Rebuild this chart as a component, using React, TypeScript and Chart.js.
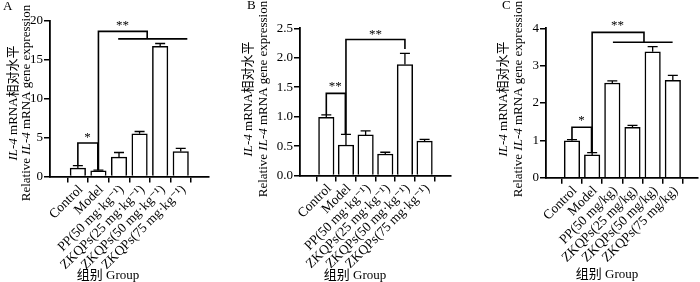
import React, { useEffect, useRef } from "react";
import { Chart, registerables } from "chart.js";

Chart.register(...registerables);

// ---------------- data ----------------
const groupsAB = [
  "Control",
  "Model",
  "PP(50 mg·kg⁻¹)",
  "ZKQPs(25 mg·kg⁻¹)",
  "ZKQPs(50 mg·kg⁻¹)",
  "ZKQPs(75 mg·kg⁻¹)",
];
const groupsC = [
  "Control",
  "Model",
  "PP(50 mg/kg)",
  "ZKQPs(25 mg/kg)",
  "ZKQPs(50 mg/kg)",
  "ZKQPs(75 mg/kg)",
];

const meanA = [1.08, 0.73, 2.48, 5.47, 16.7, 3.2];
const errA = [0.32, 0.1, 0.6, 0.3, 0.35, 0.4];
const meanB = [0.99, 0.52, 0.69, 0.366, 1.886, 0.586];
const errB = [0.04, 0.18, 0.07, 0.03, 0.19, 0.03];
const meanC = [0.99, 0.61, 2.535, 1.35, 3.37, 2.61];
const errC = [0.03, 0.06, 0.055, 0.05, 0.14, 0.13];

const ticksA = [0, 5, 10, 15, 20];
const ticksB = [0, 0.5, 1, 1.5, 2, 2.5];
const ticksC = [0, 1, 2, 3, 4];

// significance brackets in data units: [category index, value]
const bracketsA = [
  { path: [[0, 1.45], [0, 4.3], [0.97, 4.3], [0.97, 0.8]], mark: "*", at: [0.47, 5.3] },
  { path: [[1, 0.8], [1, 18.6], [3.37, 18.6], [3.37, 17.65]], mark: "**", at: [2.17, 19.7] },
  { path: [[1.96, 17.65], [5.32, 17.65]] },
];
const bracketsB = [
  { path: [[0, 1.03], [0, 1.395], [0.97, 1.395], [0.97, 0.7]], mark: "**", at: [0.45, 1.56] },
  { path: [[1, 0.7], [1, 2.31], [4, 2.31], [4, 2.15]], mark: "**", at: [2.5, 2.44] },
];
const bracketsC = [
  { path: [[0, 1.03], [0, 1.35], [0.97, 1.35], [0.97, 0.67]], mark: "*", at: [0.47, 1.59] },
  { path: [[1, 0.67], [1, 3.89], [3.57, 3.89], [3.57, 3.625]], mark: "**", at: [2.26, 4.13] },
  { path: [[2.03, 3.625], [4.99, 3.625]] },
];

// ---------------- layout ----------------
const FONT = "'Liberation Serif', 'DejaVu Serif', 'Noto Sans CJK SC', serif";
const YW = 40;
const XLABEL_SIZE = 13.5;

const panels = [
  {
    letter: "A", left: 0, width: 230, axisX: 50, right: 209, top: 20.5, bottom: 176.5,
    min: -0.71, max: 5.73, yMax: 20, labels: groupsAB, mean: meanA, err: errA, yTicks: ticksA,
    brackets: bracketsA, decimals: 0,
    letterPos: [3, 10], yTitleX: [14, 26.5], yTitleY: 103, xTitle: [108, 276],
  },
  {
    letter: "B", left: 230, width: 230, axisX: 300, right: 450.5, top: 28.3, bottom: 175.6,
    min: -0.7, max: 5.68, yMax: 2.5, labels: groupsAB, mean: meanB, err: errB, yTicks: ticksB,
    brackets: bracketsB, decimals: 1,
    letterPos: [247, 9], yTitleX: [249, 264], yTitleY: 99, xTitle: [355, 276],
  },
  {
    letter: "C", left: 460, width: 240, axisX: 546, right: 698, top: 28.3, bottom: 177.7,
    min: -0.66, max: 5.62, yMax: 4, labels: groupsC, mean: meanC, err: errC, yTicks: ticksC,
    brackets: bracketsC, decimals: 0,
    letterPos: [502, 9], yTitleX: [504, 519], yTitleY: 99, xTitle: [607, 275],
  },
];

type Seg = { t: string; italic?: boolean };

function drawRich(ctx: CanvasRenderingContext2D, segs: Seg[], cx: number, cy: number, size: number) {
  ctx.save();
  ctx.translate(cx, cy);
  ctx.rotate(-Math.PI / 2);
  ctx.textBaseline = "middle";
  ctx.textAlign = "left";
  let total = 0;
  const widths = segs.map((s) => {
    ctx.font = `${s.italic ? "italic " : ""}${size}px ${FONT}`;
    const w = ctx.measureText(s.t).width;
    total += w;
    return w;
  });
  let x = -total / 2;
  segs.forEach((s, i) => {
    ctx.font = `${s.italic ? "italic " : ""}${size}px ${FONT}`;
    ctx.fillText(s.t, x, 0);
    x += widths[i];
  });
  ctx.restore();
}

function Panel({ p }: { p: (typeof panels)[number] }) {
  const ref = useRef<HTMLCanvasElement | null>(null);
  useEffect(() => {
    if (!ref.current) return;
    const localAxis = p.axisX - p.left;
    const localRight = p.right - p.left;
    const xh = 282 - p.bottom;

    const overlay = {
      id: "overlay" + p.letter,
      afterDraw(chart: any) {
        const ctx: CanvasRenderingContext2D = chart.ctx;
        const xs = chart.scales.x;
        const ys = chart.scales.y;
        const px = (v: number) => xs.getPixelForValue(v);
        const py = (v: number) => ys.getPixelForValue(v);
        ctx.save();
        ctx.strokeStyle = "#000";
        ctx.fillStyle = "#000";
        // category labels, rotated 45 degrees, right end at the tick
        ctx.font = `${XLABEL_SIZE}px ${FONT}`;
        ctx.textAlign = "right";
        ctx.textBaseline = "middle";
        const axisY = chart.chartArea.bottom;
        p.labels.forEach((lab, i) => {
          ctx.save();
          ctx.translate(px(i) + 3, axisY + 11);
          ctx.rotate(-Math.PI / 4);
          ctx.fillText(lab, 0, 0);
          ctx.restore();
        });
        // error bars
        ctx.lineWidth = 1.3;
        p.mean.forEach((m, i) => {
          const x = px(i);
          const y0 = py(m);
          const y1 = py(m + p.err[i]);
          ctx.beginPath();
          ctx.moveTo(x, y0);
          ctx.lineTo(x, y1);
          ctx.moveTo(x - 5, y1);
          ctx.lineTo(x + 5, y1);
          ctx.stroke();
        });
        // brackets
        ctx.lineWidth = 1.6;
        ctx.font = `13px ${FONT}`;
        ctx.textAlign = "center";
        ctx.textBaseline = "alphabetic";
        p.brackets.forEach((b: any) => {
          ctx.beginPath();
          b.path.forEach((pt: number[], k: number) => {
            const X = px(pt[0]);
            const Y = py(pt[1]);
            if (k === 0) ctx.moveTo(X, Y);
            else ctx.lineTo(X, Y);
          });
          ctx.stroke();
          if (b.mark) {
            ctx.fillText(b.mark, px(b.at[0]), py(b.at[1]) + 6);
          }
        });
        // panel letter
        const L = p.left;
        ctx.textAlign = "left";
        ctx.font = `13px ${FONT}`;
        ctx.fillText(p.letter, p.letterPos[0] - L, p.letterPos[1]);
        // x title
        ctx.textAlign = "center";
        ctx.textBaseline = "middle";
        ctx.fillText("组别 Group", p.xTitle[0] - L, p.xTitle[1]);
        // y titles
        drawRich(ctx, [{ t: "IL-4", italic: true }, { t: " mRNA相对水平" }], p.yTitleX[0] - L, p.yTitleY, 13);
        drawRich(
          ctx,
          [{ t: "Relative " }, { t: "IL-4", italic: true }, { t: " mRNA gene expression" }],
          p.yTitleX[1] - L,
          p.yTitleY,
          13
        );
        ctx.restore();
      },
    };

    const chart = new Chart(ref.current, {
      type: "bar",
      data: {
        datasets: [
          {
            data: p.mean.map((v, i) => ({ x: i, y: v })),
            backgroundColor: "#ffffff",
            borderColor: "#000000",
            borderWidth: 1.5,
            barThickness: 15.5,
          } as any,
        ],
      },
      options: {
        responsive: false,
        animation: false,
        events: [],
        layout: {
          padding: {
            left: localAxis - YW,
            top: p.top,
            right: p.width - localRight,
            bottom: 0,
          },
        },
        plugins: { legend: { display: false }, tooltip: { enabled: false } },
        scales: {
          x: {
            type: "linear",
            min: p.min,
            max: p.max,
            afterBuildTicks: (s: any) => {
              s.ticks = p.labels.map((_, i) => ({ value: i }));
            },
            afterFit: (s: any) => {
              s.height = xh;
            },
            ticks: { display: false },
            grid: { drawOnChartArea: false, drawTicks: true, tickLength: 6, color: "#000", lineWidth: 1.5 },
            border: { color: "#000", width: 1.8 },
          },
          y: {
            type: "linear",
            min: 0,
            max: p.yMax,
            afterBuildTicks: (s: any) => {
              s.ticks = p.yTicks.map((v) => ({ value: v }));
            },
            afterFit: (s: any) => {
              s.width = YW;
            },
            ticks: {
              padding: 1,
              color: "#000",
              font: { family: FONT, size: 13 },
              callback: (v: any) => Number(v).toFixed(p.decimals),
            },
            grid: { drawOnChartArea: false, drawTicks: true, tickLength: 6, color: "#000", lineWidth: 1.5 },
            border: { color: "#000", width: 1.8 },
          },
        },
      } as any,
      plugins: [overlay],
    });
    return () => chart.destroy();
  }, [p]);

  return (
    <canvas
      ref={ref}
      width={p.width}
      height={282}
      style={{ position: "absolute", left: p.left, top: 0, width: p.width, height: 282, display: "block" }}
    />
  );
}

export default function App() {
  return (
    <div style={{ position: "absolute", left: 0, top: 0, width: 700, height: 282, background: "#fff", overflow: "hidden" }}>
      {panels.map((p) => (
        <Panel key={p.letter} p={p} />
      ))}
    </div>
  );
}
